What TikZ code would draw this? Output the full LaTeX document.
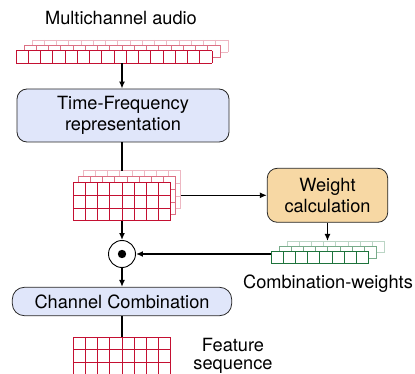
\documentclass[tikz,border=0pt]{standalone}
\usepackage{fontspec}
\setmainfont{TeX Gyre Heros}
\usetikzlibrary{arrows.meta}
\definecolor{gridred}{RGB}{196,16,50}
\definecolor{gridgreen}{RGB}{30,115,60}
\definecolor{boxblue}{RGB}{224,230,250}
\definecolor{boxorange}{RGB}{247,216,164}
\tikzset{
  gridbox/.style={inner sep=0pt, outer sep=0pt, fill=white, draw=none, anchor=north west},
  procbox/.style={draw=black!85, line width=0.8pt, rounded corners=10pt, align=center, inner sep=0pt},
  conn/.style={line width=1.5pt, black},
  arr/.style={conn, -{Latex[length=7pt,width=6pt]}},
  lbl/.style={align=center, inner sep=0pt},
}
% name, x, y (top-left, image coords), cols, rows, cell w, cell h, colour
\newcommand{\cellgrid}[8]{%
  \node[gridbox, minimum width={#4*#6}, minimum height={#5*#7}] (#1) at (#2,#3) {};
  \foreach \i in {0,...,#4} \draw[#8, line width=0.9pt] ({#2+\i*#6},#3) -- ++(0,{#5*#7});
  \foreach \j in {0,...,#5} \draw[#8, line width=0.9pt] (#2,{#3+\j*#7}) -- ++({#4*#6},0);
}
\begin{document}
\begin{tikzpicture}[x=1pt, y=-1pt, font=\fontsize{18.2}{21}\selectfont]
\useasboundingbox (0,0) rectangle (415,374);
\clip (0,0) rectangle (415,374);

% texts
\node[lbl] (title) at (121,18.5) {Multichannel audio};
\node[lbl] (cwlabel) at (328,283.5) {Combination-weights};
\node[lbl] (featlabel) at (233,356) {Feature\\[-3pt]sequence};

% audio grids
\cellgrid{audio3}{32}{40}{16}{1}{12.25}{12.5}{gridred!30}
\cellgrid{audio2}{24}{45.3}{16}{1}{12.25}{12.5}{gridred!60}
\cellgrid{audio1}{16}{50.7}{16}{1}{12.25}{12.5}{gridred}

% boxes
\node[procbox, fill=boxblue, minimum width=212, minimum height=53] (tf) at (123,115.5) {Time-Frequency\\representation};
\node[procbox, fill=boxorange, minimum width=120.5, minimum height=54] (weight) at (327.5,195.3) {Weight\\calculation};
\node[procbox, fill=boxblue, minimum width=219.4, minimum height=28.4, rounded corners=12pt] (cc) at (122,301.5) {Channel Combination};

% TF grids
\cellgrid{tfg3}{83.3}{170.7}{8}{3}{12.2}{12.67}{gridred!30}
\cellgrid{tfg2}{78.3}{176.7}{8}{3}{12.2}{12.67}{gridred!60}
\cellgrid{tfg1}{73.3}{182.7}{8}{3}{12.2}{12.67}{gridred}

% weight grids
\cellgrid{wg3}{287}{241}{8}{1}{12.2}{11.7}{gridgreen!30}
\cellgrid{wg2}{279}{246.3}{8}{1}{12.2}{11.7}{gridgreen!60}
\cellgrid{wg1}{271}{251.7}{8}{1}{12.2}{11.7}{gridgreen}

% feature grid
\cellgrid{feat}{73.3}{337.3}{8}{3}{12.2}{12.5}{gridred}

% odot
\node[circle, draw=black, line width=0.9pt, minimum size=27, inner sep=0pt] (odot) at (122,254) {};
\fill[black] (odot.center) circle (4.2);

% connectors
\draw[arr] (audio1.south -| odot.north) -- (odot.north |- tf.north);
\draw[conn] (odot.north |- tf.south) -- (odot.north |- tfg3.north);
\draw[arr] (tfg3.east |- weight.west) -- (weight.west);
\draw[arr] (odot.north |- tfg1.south) -- (odot.north);
\draw[arr] (weight.south) -- (weight.south |- wg3.north);
\draw[arr] (wg1.west |- odot.east) -- (odot.east);
\draw[arr] (odot.south) -- (odot.south |- cc.north);
\draw[conn] (odot.south |- cc.south) -- (odot.south |- feat.north);
\end{tikzpicture}
\end{document}
